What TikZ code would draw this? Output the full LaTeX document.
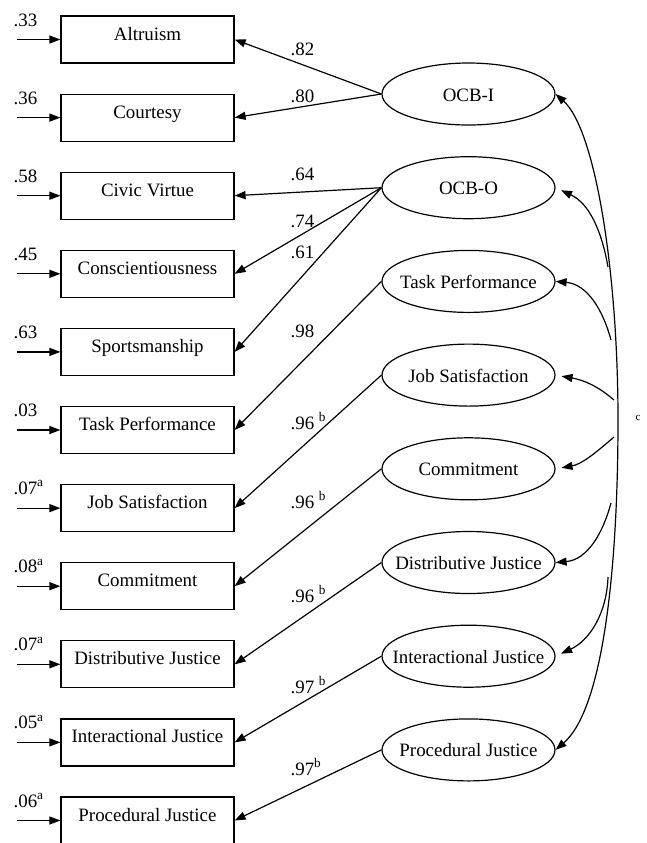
\documentclass[tikz,border=0pt]{standalone}
\usepackage{fontspec}
\setmainfont{Liberation Serif}
\usetikzlibrary{arrows.meta}
\usetikzlibrary{shapes.geometric}

\newcommand{\ctext}[1]{\makebox[0pt]{#1}}

\begin{document}
\begin{tikzpicture}[x=0.5pt, y=-0.5pt, line width=0.6pt, >={Triangle[length=5.5pt,width=4pt]},
        font=\fontsize{9.45pt}{11pt}\selectfont,
        box_style/.style={rectangle,draw=black,minimum width=86.5pt,minimum height=23.5pt,inner sep=0pt,text height=6pt,text depth=5.5pt},
        latent_style/.style={ellipse,draw=black,minimum width=86.5pt,minimum height=31pt,inner sep=0pt,text height=7pt,text depth=0pt},
        value_style/.style={anchor=base west,inner sep=0pt},
        note_style/.style={inner sep=0pt,font=\fontsize{5.5pt}{6pt}\selectfont},
        error_style/.style={draw=black,->},
        load_style/.style={draw=black,->},
        corr_style/.style={draw=black,->},
        gap_style/.style={shorten >=3pt}]

        \useasboundingbox (0,0) rectangle (647,843);

        % observed indicators
        \node [box_style](b1) at (147.5,39.5) {Altruism};

        \node [box_style](b2) at (147.5,117.6) {Courtesy};

        \node [box_style](b3) at (147.5,195.7) {Civic Virtue};

        \node [box_style](b4) at (147.5,273.8) {Conscientiousness};

        \node [box_style](b5) at (147.5,351.9) {Sportsmanship};

        \node [box_style](b6) at (147.5,430.0) {Task Performance};

        \node [box_style](b7) at (147.5,508.1) {Job Satisfaction};

        \node [box_style](b8) at (147.5,586.2) {Commitment};

        \node [box_style](b9) at (147.5,664.3) {Distributive Justice};

        \node [box_style](b10) at (147.5,742.4) {Interactional Justice};

        \node [box_style](b11) at (147.5,820.5) {Procedural Justice};

        % latent factors
        \node [latent_style](l1) at (468.5,94.0) {\ctext{OCB-I}};

        \node [latent_style](l2) at (468.5,187.7) {\ctext{OCB-O}};

        \node [latent_style](l3) at (468.5,281.4) {\ctext{Task Performance}};

        \node [latent_style](l4) at (468.5,375.1) {\ctext{Job Satisfaction}};

        \node [latent_style](l5) at (468.5,468.8) {\ctext{Commitment}};

        \node [latent_style](l6) at (468.5,562.5) {\ctext{Distributive Justice}};

        \node [latent_style](l7) at (468.5,656.2) {\ctext{Interactional Justice}};

        \node [latent_style](l8) at (468.5,749.9) {\ctext{Procedural Justice}};

        % error terms
        \coordinate (e1) at (17,39.5);
        \coordinate (e2) at (17,117.6);
        \coordinate (e3) at (17,195.7);
        \coordinate (e4) at (17,273.8);
        \coordinate (e5) at (17,351.9);
        \coordinate (e6) at (17,430.0);
        \coordinate (e7) at (17,508.1);
        \coordinate (e8) at (17,586.2);
        \coordinate (e9) at (17,664.3);
        \coordinate (e10) at (17,742.4);
        \coordinate (e11) at (17,820.5);

        \node [value_style](r1) at (13,26) {.33};

        \node [value_style](r2) at (13,104.1) {.36};

        \node [value_style](r3) at (13,182.2) {.58};

        \node [value_style](r4) at (13,260.3) {.45};

        \node [value_style](r5) at (13,338.4) {.63};

        \node [value_style](r6) at (13,416.5) {.03};

        \node [value_style](r7) at (13,494.6) {.07\textsuperscript{a}};

        \node [value_style](r8) at (13,572.7) {.08\textsuperscript{a}};

        \node [value_style](r9) at (13,650.8) {.07\textsuperscript{a}};

        \node [value_style](r10) at (13,728.9) {.05\textsuperscript{a}};

        \node [value_style](r11) at (13,807.0) {.06\textsuperscript{a}};

        \draw [error_style] (e1) -- (b1);
        \draw [error_style] (e2) -- (b2);
        \draw [error_style] (e3) -- (b3);
        \draw [error_style] (e4) -- (b4);
        \draw [error_style] (e5) -- (b5);
        \draw [error_style] (e6) -- (b6);
        \draw [error_style] (e7) -- (b7);
        \draw [error_style] (e8) -- (b8);
        \draw [error_style] (e9) -- (b9);
        \draw [error_style] (e10) -- (b10);
        \draw [error_style] (e11) -- (b11);

        % loadings
        \draw [load_style] (l1.west) -- (b1.east);
        \draw [load_style] (l1.west) -- (b2.east);
        \draw [load_style] (l2.west) -- (b3.east);
        \draw [load_style] (l2.west) -- (b4.east);
        \draw [load_style] (l2.west) -- (b5.east);
        \draw [load_style] (l3.west) -- (b6.east);
        \draw [load_style] (l4.west) -- (b7.east);
        \draw [load_style] (l5.west) -- (b8.east);
        \draw [load_style] (l6.west) -- (b9.east);
        \draw [load_style] (l7.west) -- (b10.east);
        \draw [load_style] (l8.west) -- (b11.east);

        \node [value_style](w1) at (290,55) {.82};

        \node [value_style](w2) at (290,102) {.80};

        \node [value_style](w3) at (290,180) {.64};

        \node [value_style](w4) at (290,227) {.74};

        \node [value_style](w5) at (290,258) {.61};

        \node [value_style](w6) at (290,337) {.98};

        \node [value_style](w7) at (290,429) {.96 \textsuperscript{b}};

        \node [value_style](w8) at (290,508) {.96 \textsuperscript{b}};

        \node [value_style](w9) at (290,602) {.96 \textsuperscript{b}};

        \node [value_style](w10) at (290,693) {.97 \textsuperscript{b}};

        \node [value_style](w11) at (290,775) {.97\textsuperscript{b}};

        % correlations
        \coordinate (k2) at (608,267);
        \coordinate (k3) at (611,340);
        \coordinate (k4) at (614,400);
        \coordinate (k5) at (614,437);
        \coordinate (k6) at (611,503);
        \coordinate (k7) at (608,577);
        \coordinate (kmid) at (618,420);

        \draw [corr_style,<->] (l1.east) .. controls (595,129) and (618,270) .. (kmid) .. controls (618,570) and (603,709) .. (l8.east);
        \draw [corr_style,gap_style] (k2) to[out=100,in=-25] (l2.east);
        \draw [corr_style] (k3) to[out=105,in=-5] (l3.east);
        \draw [corr_style,gap_style] (k4) to[out=139,in=-10] (l4.east);
        \draw [corr_style,gap_style] (k5) to[out=-139,in=10] (l5.east);
        \draw [corr_style] (k6) to[out=-105,in=5] (l6.east);
        \draw [corr_style,gap_style] (k7) to[out=-92,in=25] (l7.east);

        \node [note_style](c1) at (638,418) {c};

    \end{tikzpicture}
\end{document}
